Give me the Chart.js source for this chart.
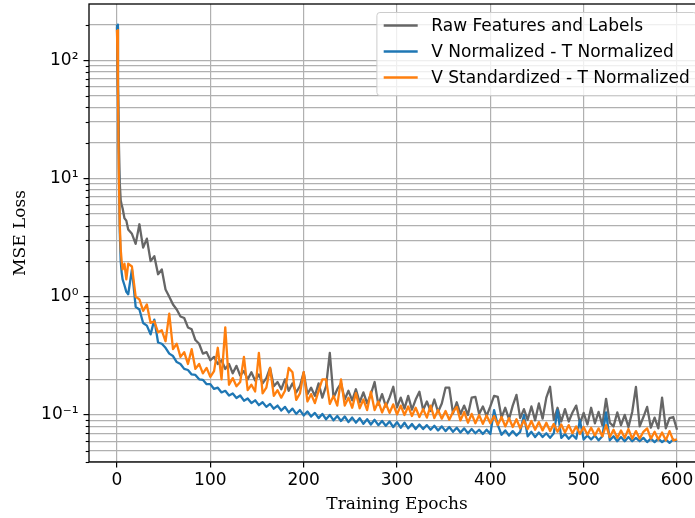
<!DOCTYPE html>
<html>
<head>
<meta charset="utf-8">
<script src="https://cdn.jsdelivr.net/npm/chart.js@4/dist/chart.umd.min.js"></script>
<style>
  html, body { margin: 0; padding: 0; background: #fff; overflow: hidden; }
  #wrap { position: relative; width: 712px; height: 518px; }
</style>
</head>
<body>
<div id="wrap"><canvas id="lossChart" width="712" height="518"></canvas></div>
<script>
// Epoch grid: the first few epochs individually, then every 4th epoch
const epochs = [0, 1, 2, 3, 4, 5, 6, 8, 10];
for (let e = 12; e <= 600; e += 4) epochs.push(e);

// Loss per epoch, raw features and labels
const rawLoss = [
  190, 60, 20, 9, 6.5, 6.0, 5.6, 4.6, 4.4,
  3.7, 3.4, 2.8, 4.1, 2.6, 3.1, 2.0, 2.2, 1.55, 1.7,
  1.15, 1.0, 0.86, 0.78, 0.68, 0.66, 0.55, 0.53, 0.43, 0.4,
  0.33, 0.34, 0.29, 0.31, 0.27, 0.29, 0.245, 0.27, 0.225, 0.26,
  0.215, 0.235, 0.2, 0.23, 0.195, 0.22, 0.185, 0.205, 0.25, 0.175,
  0.19, 0.165, 0.2, 0.16, 0.185, 0.155, 0.175, 0.23, 0.15, 0.17,
  0.145, 0.185, 0.14, 0.175, 0.335, 0.14, 0.165, 0.185, 0.135, 0.16,
  0.133, 0.165, 0.128, 0.155, 0.125, 0.15, 0.19, 0.122, 0.15, 0.118,
  0.14, 0.173, 0.116, 0.14, 0.113, 0.145, 0.111, 0.135, 0.157, 0.11,
  0.13, 0.108, 0.135, 0.106, 0.125, 0.17, 0.17, 0.103, 0.128, 0.102,
  0.12, 0.1, 0.14, 0.142, 0.102, 0.118, 0.098, 0.118, 0.145, 0.142,
  0.095, 0.115, 0.092, 0.12, 0.148, 0.094, 0.112, 0.091, 0.118, 0.09,
  0.125, 0.093, 0.14, 0.173, 0.091, 0.115, 0.088, 0.112, 0.088, 0.105,
  0.12, 0.085, 0.104, 0.083, 0.115, 0.085, 0.106, 0.082, 0.137, 0.086,
  0.08, 0.105, 0.082, 0.1, 0.079, 0.106, 0.173, 0.08, 0.096, 0.117,
  0.078, 0.095, 0.077, 0.14, 0.077, 0.094, 0.096, 0.075
];

// Loss per epoch, V normalized / T normalized
const vNormLoss = [
  200, 70, 12, 3.5, 2.0, 1.6, 1.4, 1.25, 1.1,
  1.05, 1.7, 0.82, 0.78, 0.6, 0.57, 0.48, 0.64, 0.41, 0.4,
  0.37, 0.33, 0.315, 0.28, 0.27, 0.245, 0.24, 0.22, 0.218, 0.2,
  0.198, 0.182, 0.182, 0.166, 0.17, 0.155, 0.16, 0.146, 0.152, 0.139,
  0.146, 0.132, 0.138, 0.126, 0.133, 0.121, 0.128, 0.117, 0.124, 0.113,
  0.12, 0.109, 0.117, 0.105, 0.113, 0.102, 0.11, 0.099, 0.107, 0.097,
  0.104, 0.094, 0.102, 0.092, 0.1, 0.09, 0.098, 0.089, 0.097, 0.087,
  0.095, 0.086, 0.094, 0.084, 0.092, 0.083, 0.091, 0.082, 0.089, 0.081,
  0.088, 0.079, 0.087, 0.078, 0.086, 0.077, 0.084, 0.076, 0.083, 0.076,
  0.082, 0.075, 0.081, 0.074, 0.08, 0.073, 0.079, 0.072, 0.078, 0.071,
  0.077, 0.07, 0.076, 0.07, 0.075, 0.069, 0.075, 0.069, 0.11, 0.082,
  0.068, 0.074, 0.067, 0.073, 0.067, 0.072, 0.1, 0.066, 0.072, 0.065,
  0.071, 0.065, 0.07, 0.064, 0.07, 0.11, 0.064, 0.069, 0.063, 0.068,
  0.063, 0.09, 0.062, 0.067, 0.062, 0.067, 0.061, 0.066, 0.105, 0.061,
  0.066, 0.06, 0.065, 0.06, 0.065, 0.06, 0.064, 0.06, 0.064, 0.059,
  0.063, 0.059, 0.063, 0.059, 0.062, 0.058, 0.062, 0.06
];

// Loss per epoch, V standardized / T normalized
const vStdLoss = [
  180, 60, 10, 4, 2.5, 2.0, 1.7, 1.9, 1.4,
  1.9, 1.8, 1.0, 0.95, 0.76, 0.86, 0.6, 0.62, 0.5, 0.52,
  0.42, 0.72, 0.36, 0.4, 0.31, 0.34, 0.27, 0.36, 0.245, 0.27,
  0.225, 0.25, 0.21, 0.235, 0.37, 0.2, 0.55, 0.18, 0.205, 0.175,
  0.19, 0.31, 0.162, 0.18, 0.158, 0.335, 0.152, 0.17, 0.25, 0.145,
  0.162, 0.14, 0.16, 0.25, 0.23, 0.134, 0.152, 0.23, 0.13, 0.15,
  0.126, 0.16, 0.2, 0.2, 0.124, 0.145, 0.12, 0.2, 0.12, 0.14,
  0.115, 0.153, 0.114, 0.135, 0.11, 0.157, 0.11, 0.13, 0.105, 0.125,
  0.104, 0.123, 0.101, 0.12, 0.1, 0.118, 0.098, 0.115, 0.096, 0.112,
  0.095, 0.12, 0.094, 0.11, 0.093, 0.108, 0.091, 0.106, 0.117, 0.09,
  0.106, 0.086, 0.102, 0.085, 0.1, 0.084, 0.099, 0.085, 0.098, 0.082,
  0.096, 0.08, 0.094, 0.079, 0.092, 0.077, 0.09, 0.076, 0.089, 0.075,
  0.087, 0.074, 0.086, 0.073, 0.084, 0.072, 0.083, 0.071, 0.082, 0.07,
  0.08, 0.069, 0.079, 0.068, 0.078, 0.067, 0.077, 0.066, 0.082, 0.065,
  0.075, 0.064, 0.074, 0.064, 0.076, 0.063, 0.073, 0.063, 0.072, 0.077,
  0.063, 0.072, 0.062, 0.071, 0.061, 0.073, 0.061, 0.062
];

const seriesLabels = ['Raw Features and Labels', 'V Normalized - T Normalized', 'V Standardized - T Normalized'];
const seriesColors = ['#666666', '#1f77b4', '#ff7f0e'];
const seriesValues = [rawLoss, vNormLoss, vStdLoss];

const xTickValues = [0, 100, 200, 300, 400, 500, 600];
const yMajorValues = [0.1, 1, 10, 100];
const yMajorLabels = ['10⁻¹', '10⁰', '10¹', '10²'];

const Y_MIN = 0.04, Y_MAX = 299;
const X_MIN = -30, X_MAX = 630;

// every 1..9 x 10^k inside the axis range
const yTickValues = [];
for (let k = -2; k <= 2; k++) {
  for (let m = 1; m <= 9; m++) {
    const v = parseFloat((m * Math.pow(10, k)).toPrecision(6));
    if (v >= Y_MIN && v <= Y_MAX) yTickValues.push(v);
  }
}
const isMajor = v => Math.abs(Math.log10(v) - Math.round(Math.log10(v))) < 1e-9;

const FONT = '"DejaVu Sans", sans-serif';
const SERIF = '"DejaVu Serif", serif';
const FS = 17;

// minor tick marks, frame and legend in the axes corner
const axesDecor = {
  id: 'axesDecor',
  afterDraw(chart) {
    const { ctx, chartArea: a } = chart;
    const y = chart.scales.y;
    ctx.save();
    // minor ticks on the y axis
    ctx.strokeStyle = '#000';
    ctx.lineWidth = 1.1;
    yTickValues.forEach(v => {
      if (isMajor(v)) return;
      const py = Math.round(y.getPixelForValue(v)) + 0.5;
      ctx.beginPath();
      ctx.moveTo(a.left - 3.3, py);
      ctx.lineTo(a.left, py);
      ctx.stroke();
    });
    // frame
    ctx.lineWidth = 1.3;
    ctx.strokeStyle = '#000';
    ctx.strokeRect(a.left, a.top, a.right - a.left, a.bottom - a.top);

    // legend
    ctx.font = `${FS}px ${FONT}`;
    const textW = Math.max(...seriesLabels.map(t => ctx.measureText(t).width));
    const pad = 0.4 * FS, handle = 2 * FS, gap = 0.8 * FS, rowH = 26;
    const w = pad + handle + gap + textW + pad;
    const h = 83;
    const x0 = a.right - 0.5 * FS - w;
    const y0 = a.top + 0.5 * FS;
    const r = 3;
    ctx.beginPath();
    ctx.moveTo(x0 + r, y0);
    ctx.lineTo(x0 + w - r, y0);
    ctx.arcTo(x0 + w, y0, x0 + w, y0 + r, r);
    ctx.lineTo(x0 + w, y0 + h - r);
    ctx.arcTo(x0 + w, y0 + h, x0 + w - r, y0 + h, r);
    ctx.lineTo(x0 + r, y0 + h);
    ctx.arcTo(x0, y0 + h, x0, y0 + h - r, r);
    ctx.lineTo(x0, y0 + r);
    ctx.arcTo(x0, y0, x0 + r, y0, r);
    ctx.closePath();
    ctx.fillStyle = 'rgba(255,255,255,0.8)';
    ctx.fill();
    ctx.strokeStyle = '#cccccc';
    ctx.lineWidth = 1;
    ctx.stroke();

    ctx.textBaseline = 'middle';
    ctx.textAlign = 'left';
    seriesLabels.forEach((label, i) => {
      const cy = y0 + 13 + i * rowH;
      ctx.strokeStyle = seriesColors[i];
      ctx.lineWidth = 2.5;
      ctx.beginPath();
      ctx.moveTo(x0 + pad, cy);
      ctx.lineTo(x0 + pad + handle, cy);
      ctx.stroke();
      ctx.fillStyle = '#000';
      ctx.fillText(label, x0 + pad + handle + gap, cy + 1);
    });
    ctx.restore();
  }
};

const datasets = seriesLabels.map((label, i) => ({
  label,
  data: epochs.map((e, j) => ({ x: e, y: seriesValues[i][j] })),
  borderColor: seriesColors[i],
  backgroundColor: seriesColors[i],
  borderWidth: 2.3,
  pointRadius: 0,
  tension: 0,
  fill: false,
  borderJoinStyle: 'round',
  order: 3 - i
}));

new Chart(document.getElementById('lossChart'), {
  type: 'line',
  data: { datasets },
  options: {
    responsive: false,
    animation: false,
    devicePixelRatio: 1,
    layout: { padding: { top: 4, right: 7, left: 0, bottom: 0 } },
    plugins: { legend: { display: false }, tooltip: { enabled: false } },
    scales: {
      x: {
        type: 'linear',
        min: X_MIN,
        max: X_MAX,
        afterBuildTicks: s => { s.ticks = xTickValues.map(v => ({ value: v })); },
        afterFit: s => { s.height = 56; s.paddingLeft = 0; s.paddingRight = 0; },
        grid: { color: '#b0b0b0', lineWidth: 1.2, tickLength: 5.5, tickColor: '#000', tickWidth: 1.2 },
        border: { display: false },
        ticks: { font: { family: FONT, size: FS }, color: '#000', padding: 3, maxRotation: 0, autoSkip: false },
        title: { display: true, text: 'Training Epochs', font: { family: SERIF, size: FS }, color: '#000', padding: { top: 0, bottom: 3 } }
      },
      y: {
        type: 'logarithmic',
        min: Y_MIN,
        max: Y_MAX,
        afterBuildTicks: s => { s.ticks = yTickValues.map(v => ({ value: v, major: isMajor(v) })); },
        afterFit: s => { s.width = 89; s.paddingTop = 0; s.paddingBottom = 0; },
        grid: {
          color: '#b0b0b0',
          lineWidth: 1.2,
          tickLength: 5.5,
          tickWidth: 1.2,
          tickColor: c => (c.tick && isMajor(c.tick.value)) ? '#000' : 'rgba(0,0,0,0)'
        },
        border: { display: false },
        ticks: {
          font: { family: FONT, size: FS },
          color: '#000',
          padding: 5,
          autoSkip: false,
          callback: v => {
            const k = yMajorValues.findIndex(m => Math.abs(m - v) / m < 1e-9);
            return k >= 0 ? yMajorLabels[k] : '';
          }
        },
        title: { display: true, text: 'MSE Loss', font: { family: SERIF, size: FS }, color: '#000', padding: { top: 10, bottom: 0 } }
      }
    }
  },
  plugins: [axesDecor]
});
</script>
</body>
</html>
